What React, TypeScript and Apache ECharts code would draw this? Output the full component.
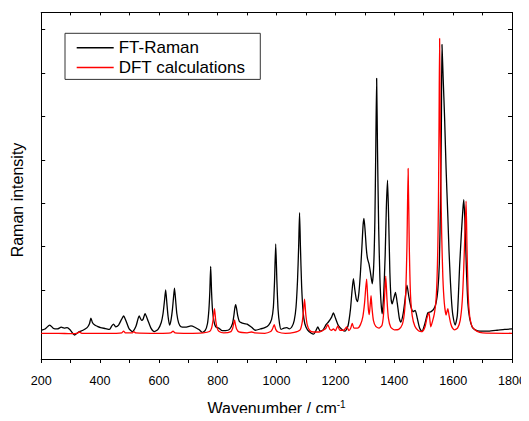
import React, { useEffect, useRef } from "react";
import * as echarts from "echarts";

const FONT = "'Liberation Sans', Arial, Helvetica, sans-serif";

const seriesNames = ["FT-Raman", "DFT calculations"];
const yTicks = [0, 1, 2, 3, 4, 5, 6, 7];

// [wavenumber (cm-1), intensity (a.u.)]
const ftRaman: [number, number][] = [
  [200, 0.07], [213, 0.1], [229, 0.19], [242, 0.11], [255, 0.1], [268, 0.14], [278, 0.12], [288, 0.13],
  [298, 0.08], [313, -0.04], [327, 0.03], [342, 0.07], [356, 0.13], [364, 0.22], [369, 0.35], [374, 0.25],
  [382, 0.19], [391, 0.16], [402, 0.13], [418, 0.11], [432, 0.09], [440, 0.17], [446, 0.21], [453, 0.15],
  [463, 0.19], [473, 0.32], [480, 0.4], [488, 0.29], [499, 0.1], [510, 0.04], [522, 0.16], [533, 0.4],
  [541, 0.3], [546, 0.32], [553, 0.45], [563, 0.29], [573, 0.12], [584, 0.04], [597, 0.09], [608, 0.25],
  [614, 0.45], [619, 0.75], [623, 1.0], [627, 0.7], [631, 0.4], [636, 0.19], [641, 0.3], [646, 0.55],
  [650, 0.85], [653, 1.04], [657, 0.75], [661, 0.45], [667, 0.24], [675, 0.15], [690, 0.14], [709, 0.17],
  [722, 0.14], [737, 0.08], [747, 0.02], [757, 0.06], [765, 0.22], [770, 0.55], [773, 0.95], [776, 1.54],
  [779, 0.95], [782, 0.55], [787, 0.28], [793, 0.15], [805, 0.11], [815, 0.06], [827, 0.06], [840, 0.09],
  [850, 0.22], [855, 0.42], [858, 0.58], [861, 0.66], [864, 0.57], [868, 0.4], [873, 0.28], [878, 0.25],
  [890, 0.22], [900, 0.21], [915, 0.14], [928, 0.07], [945, 0.1], [960, 0.13], [973, 0.19], [983, 0.32],
  [989, 0.6], [993, 1.2], [997, 2.06], [1001, 1.2], [1005, 0.55], [1010, 0.22], [1015, 0.09], [1025, 0.12],
  [1035, 0.13], [1043, 0.1], [1052, 0.15], [1060, 0.3], [1066, 0.6], [1071, 1.2], [1075, 2.0], [1078, 2.78],
  [1081, 2.0], [1085, 1.1], [1090, 0.5], [1096, 0.22], [1105, 0.08], [1118, 0.0], [1126, -0.02], [1133, 0.05],
  [1140, 0.15], [1148, 0.05], [1158, 0.08], [1168, 0.2], [1176, 0.26], [1186, 0.36], [1193, 0.47], [1200, 0.35],
  [1210, 0.18], [1222, 0.09], [1233, 0.05], [1243, 0.18], [1251, 0.55], [1256, 0.95], [1261, 1.26], [1266, 1.0],
  [1271, 0.78], [1275, 0.73], [1280, 0.95], [1285, 1.4], [1290, 2.0], [1294, 2.5], [1297, 2.65], [1301, 2.35],
  [1305, 1.95], [1309, 1.72], [1314, 1.6], [1319, 1.4], [1325, 1.14], [1330, 1.55], [1334, 2.6], [1337, 4.2],
  [1340, 5.88], [1343, 4.2], [1347, 2.4], [1351, 1.3], [1355, 0.7], [1359, 0.45], [1364, 0.9], [1369, 1.8],
  [1373, 2.9], [1377, 3.53], [1381, 2.6], [1385, 1.4], [1389, 0.8], [1393, 0.68], [1398, 0.8], [1404, 0.94],
  [1410, 0.7], [1417, 0.35], [1422, 0.26], [1430, 0.45], [1437, 0.8], [1443, 1.11], [1450, 0.82], [1457, 0.6],
  [1464, 0.5], [1471, 0.53], [1478, 0.35], [1486, 0.12], [1494, 0.04], [1503, 0.2], [1514, 0.47], [1525, 0.5],
  [1535, 0.57], [1542, 0.7], [1548, 1.0], [1553, 1.6], [1557, 3.0], [1560, 4.8], [1562, 6.66], [1566, 5.9],
  [1571, 4.96], [1576, 3.8], [1582, 2.69], [1586, 1.9], [1591, 1.16], [1595, 0.7], [1599, 0.42], [1607, 0.19],
  [1614, 0.4], [1618, 0.9], [1622, 1.55], [1628, 2.3], [1633, 2.85], [1636, 3.08], [1640, 2.6], [1645, 1.5],
  [1650, 0.7], [1656, 0.35], [1665, 0.14], [1675, 0.08], [1690, 0.05], [1720, 0.05], [1750, 0.07], [1775, 0.09],
  [1800, 0.1],
];

const dftCalc: [number, number][] = [
  [200, 0.0], [260, 0.0], [300, -0.01], [322, 0.0], [330, 0.03], [338, 0.0], [400, 0.0], [455, 0.0],
  [474, 0.01], [480, 0.05], [486, 0.01], [510, 0.01], [515, 0.04], [521, 0.01], [600, 0.0], [640, 0.01],
  [648, 0.05], [655, 0.01], [700, 0.0], [750, 0.01], [772, 0.04], [779, 0.12], [784, 0.3], [789, 0.57],
  [793, 0.3], [798, 0.12], [805, 0.04], [820, 0.01], [845, 0.04], [851, 0.12], [854, 0.22], [857, 0.31],
  [860, 0.2], [864, 0.1], [872, 0.03], [900, 0.01], [915, 0.03], [925, 0.01], [960, 0.0], [980, 0.04],
  [986, 0.1], [992, 0.2], [997, 0.09], [1005, 0.03], [1030, 0.0], [1060, 0.02], [1080, 0.08], [1087, 0.25],
  [1091, 0.5], [1095, 0.79], [1099, 0.45], [1104, 0.2], [1112, 0.07], [1125, 0.03], [1145, 0.03], [1158, 0.07],
  [1167, 0.11], [1174, 0.2], [1181, 0.09], [1187, 0.07], [1193, 0.1], [1200, 0.06], [1208, 0.17], [1215, 0.07],
  [1228, 0.07], [1238, 0.15], [1246, 0.06], [1252, 0.12], [1257, 0.23], [1263, 0.12], [1275, 0.12], [1285, 0.2],
  [1293, 0.38], [1299, 0.7], [1303, 1.05], [1306, 1.25], [1309, 0.9], [1312, 0.55], [1315, 0.43], [1318, 0.65],
  [1321, 0.87], [1324, 0.6], [1329, 0.3], [1337, 0.16], [1348, 0.12], [1358, 0.18], [1363, 0.4], [1367, 0.85],
  [1371, 1.32], [1375, 0.8], [1380, 0.35], [1388, 0.14], [1400, 0.08], [1415, 0.09], [1427, 0.2], [1434, 0.45],
  [1439, 0.95], [1443, 2.0], [1447, 3.8], [1451, 2.0], [1455, 0.9], [1461, 0.4], [1470, 0.16], [1482, 0.06],
  [1494, 0.04], [1504, 0.14], [1511, 0.35], [1518, 0.47], [1521, 0.3], [1524, 0.15], [1530, 0.28], [1536, 0.45],
  [1541, 0.7], [1545, 1.2], [1548, 2.0], [1550, 3.0], [1552, 4.8], [1554, 6.8], [1556, 5.0], [1558, 3.6],
  [1561, 2.3], [1565, 1.3], [1570, 0.7], [1576, 0.42], [1579, 0.5], [1582, 0.57], [1586, 0.42], [1592, 0.22],
  [1598, 0.12], [1605, 0.08], [1615, 0.12], [1624, 0.3], [1631, 0.75], [1636, 1.5], [1640, 2.3], [1644, 3.05],
  [1647, 2.0], [1651, 0.9], [1656, 0.4], [1662, 0.2], [1667, 0.13], [1680, 0.05], [1700, 0.01], [1800, 0.0],
];

export default function App() {
  const ref = useRef<HTMLDivElement>(null);

  useEffect(() => {
    if (!ref.current) return;
    const chart = echarts.init(ref.current, undefined, { renderer: "svg" });
    const axisLineStyle = { color: "#000", width: 1 };
    const option: any = {
      animation: false,
      backgroundColor: "#fff",
      grid: { left: 41.2, right: 14.5, top: 12.4, bottom: 56.5 },
      legend: {
        orient: "vertical",
        left: 65,
        top: 33.3,
        padding: [6, 15, 3.5, 11.7],
        itemGap: 2.6,
        itemWidth: 37,
        itemHeight: 1.5,
        icon: "rect",
        borderColor: "#333",
        borderWidth: 1,
        textStyle: { fontSize: 17, fontFamily: FONT, color: "#000" },
        data: seriesNames,
      },
      xAxis: [
        {
          type: "value",
          min: 200,
          max: 1800,
          interval: 200,
          position: "bottom",
          axisLine: { show: true, onZero: false, lineStyle: axisLineStyle },
          axisTick: { show: true, inside: false, length: 4, lineStyle: axisLineStyle },
          minorTick: { show: true, splitNumber: 2, length: 4, lineStyle: axisLineStyle },
          axisLabel: {
            color: "#000",
            fontSize: 12.6,
            margin: 15,
            fontFamily: FONT,
            formatter: (v: number) => String(v),
          },
          splitLine: { show: false },
          minorSplitLine: { show: false },
          name: "{a|Wavenumber / cm}{b|-1}",
          nameLocation: "middle",
          nameGap: 40,
          nameTextStyle: {
            fontSize: 16,
            fontFamily: FONT,
            color: "#000",
            rich: {
              a: { fontSize: 16, fontFamily: FONT, color: "#000", lineHeight: 18 },
              b: { fontSize: 10, fontFamily: FONT, color: "#000", verticalAlign: "top", lineHeight: 10 },
            },
          },
        },
        {
          type: "value",
          min: 200,
          max: 1800,
          interval: 200,
          position: "top",
          axisLine: { show: true, onZero: false, lineStyle: axisLineStyle },
          axisTick: { show: true, inside: true, length: 3, lineStyle: axisLineStyle },
          minorTick: { show: true, splitNumber: 2, length: 3, lineStyle: axisLineStyle },
          axisLabel: { show: false },
          splitLine: { show: false },
        },
      ],
      yAxis: [
        {
          type: "value",
          min: -0.593,
          max: 7.4,
          position: "left",
          axisLine: { show: true, onZero: false, lineStyle: axisLineStyle },
          axisTick: { show: true, inside: true, length: 4, customValues: yTicks, lineStyle: axisLineStyle },
          axisLabel: { show: false },
          splitLine: { show: false },
        },
        {
          type: "value",
          min: -0.593,
          max: 7.4,
          position: "right",
          axisLine: { show: true, onZero: false, lineStyle: axisLineStyle },
          axisTick: { show: true, inside: true, length: 4, customValues: yTicks, lineStyle: axisLineStyle },
          axisLabel: { show: false },
          splitLine: { show: false },
        },
      ],
      series: [
        {
          name: seriesNames[0],
          type: "line",
          xAxisIndex: 0,
          yAxisIndex: 0,
          data: ftRaman,
          symbol: "none",
          showSymbol: false,
          smooth: 0.2,
          lineStyle: { color: "#000", width: 1.3 },
          itemStyle: { color: "#000" },
          z: 2,
        },
        {
          name: seriesNames[1],
          type: "line",
          xAxisIndex: 0,
          yAxisIndex: 0,
          data: dftCalc,
          symbol: "none",
          showSymbol: false,
          smooth: 0.2,
          lineStyle: { color: "#ff0000", width: 1.3 },
          itemStyle: { color: "#ff0000" },
          z: 3,
        },
      ],
      graphic: [
        {
          type: "text",
          x: 17,
          y: 200,
          rotation: Math.PI / 2,
          style: {
            text: "Raman intensity",
            fontSize: 16,
            fontFamily: FONT,
            fill: "#000",
            align: "center",
            verticalAlign: "middle",
          },
        },
      ],
    };
    chart.setOption(option);
    return () => chart.dispose();
  }, []);

  return <div ref={ref} style={{ width: 529, height: 421, margin: -8 }} />;
}
